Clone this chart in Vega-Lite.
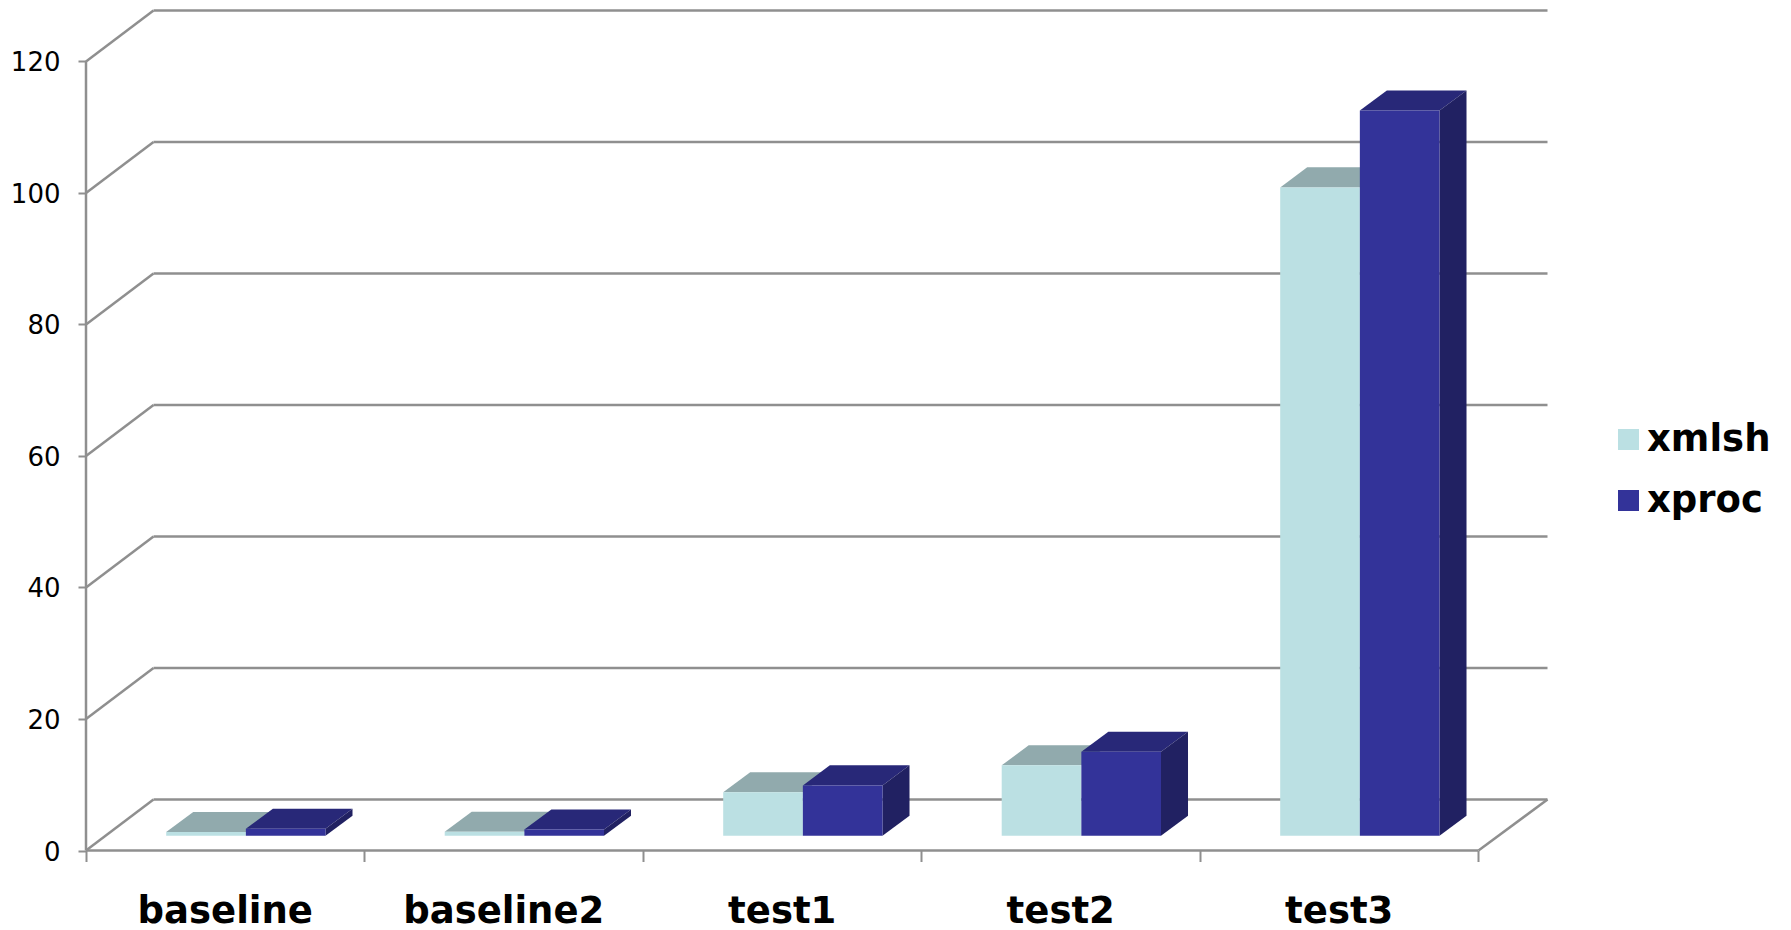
{
  "$schema": "https://vega.github.io/schema/vega-lite/v6.json",
  "width": 1461.5,
  "height": 840.5,
  "autosize": {"type": "none"},
  "padding": {"left": 86, "top": 10, "right": 243.5, "bottom": 79.5},
  "background": "white",
  "config": {
    "view": {"stroke": null},
    "font": "DejaVu Sans"
  },
  "datasets": {
    "timings": [
      {"group": "baseline", "series": "xmlsh", "value": 0.55},
      {"group": "baseline", "series": "xproc", "value": 1.05},
      {"group": "baseline2", "series": "xmlsh", "value": 0.6},
      {"group": "baseline2", "series": "xproc", "value": 0.95},
      {"group": "test1", "series": "xmlsh", "value": 6.6},
      {"group": "test1", "series": "xproc", "value": 7.65},
      {"group": "test2", "series": "xmlsh", "value": 10.7},
      {"group": "test2", "series": "xproc", "value": 12.75},
      {"group": "test3", "series": "xmlsh", "value": 98.6},
      {"group": "test3", "series": "xproc", "value": 110.3}
    ],
    "levels": [
      {"level": 0},
      {"level": 20},
      {"level": 40},
      {"level": 60},
      {"level": 80},
      {"level": 100},
      {"level": 120}
    ]
  },
  "layer": [
    {
      "description": "Back wall gridlines, with both axes carried by this layer",
      "data": {"name": "levels"},
      "transform": [
        {"calculate": "0.2424", "as": "x0"},
        {"calculate": "5.2478", "as": "x1"},
        {"calculate": "datum.level + 7.75", "as": "yBack"}
      ],
      "mark": {"type": "rule", "color": "#8f8f8f", "strokeWidth": 2.5},
      "encoding": {
        "x": {
          "field": "x0",
          "type": "quantitative",
          "scale": {"domain": [0, 5.2478], "nice": false, "zero": false},
          "axis": {
            "values": [0, 1, 2, 3, 4, 5],
            "labels": false,
            "grid": false,
            "domain": false,
            "title": null,
            "tickSize": 11,
            "tickWidth": 2,
            "tickColor": "#8f8f8f"
          }
        },
        "x2": {"field": "x1"},
        "y": {
          "field": "yBack",
          "type": "quantitative",
          "scale": {"domain": [0, 127.83], "nice": false, "zero": false},
          "axis": {
            "values": [0, 20, 40, 60, 80, 100, 120],
            "grid": false,
            "domain": false,
            "title": null,
            "tickSize": 8,
            "tickWidth": 2,
            "tickColor": "#8f8f8f",
            "labelFontSize": 26,
            "labelColor": "#000000",
            "labelPadding": 18,
            "labelOffset": 1.5,
            "labelFont": "DejaVu Sans"
          }
        }
      }
    },
    {
      "description": "Diagonals joining the left axis to the back wall",
      "data": {"name": "levels"},
      "transform": [
        {"calculate": "0", "as": "x0"},
        {"calculate": "0.2424", "as": "x1"},
        {"calculate": "datum.level + 7.75", "as": "yBack"}
      ],
      "mark": {"type": "rule", "color": "#8f8f8f", "strokeWidth": 2.5},
      "encoding": {
        "x": {"field": "x0", "type": "quantitative", "scale": {"domain": [0, 5.2478], "nice": false, "zero": false}},
        "x2": {"field": "x1"},
        "y": {"field": "level", "type": "quantitative", "scale": {"domain": [0, 127.83], "nice": false, "zero": false}},
        "y2": {"field": "yBack"}
      }
    },
    {
      "description": "Right edge of the floor",
      "data": {"name": "levels"},
      "transform": [
        {"filter": "datum.level === 0"},
        {"calculate": "5", "as": "x0"},
        {"calculate": "5.2478", "as": "x1"},
        {"calculate": "7.75", "as": "yBack"}
      ],
      "mark": {"type": "rule", "color": "#8f8f8f", "strokeWidth": 2.5},
      "encoding": {
        "x": {"field": "x0", "type": "quantitative", "scale": {"domain": [0, 5.2478], "nice": false, "zero": false}},
        "x2": {"field": "x1"},
        "y": {"field": "level", "type": "quantitative", "scale": {"domain": [0, 127.83], "nice": false, "zero": false}},
        "y2": {"field": "yBack"}
      }
    },
    {
      "description": "Front edge of the floor",
      "data": {"name": "levels"},
      "transform": [
        {"filter": "datum.level === 0"},
        {"calculate": "0", "as": "x0"},
        {"calculate": "5", "as": "x1"}
      ],
      "mark": {"type": "rule", "color": "#8f8f8f", "strokeWidth": 2.5},
      "encoding": {
        "x": {"field": "x0", "type": "quantitative", "scale": {"domain": [0, 5.2478], "nice": false, "zero": false}},
        "x2": {"field": "x1"},
        "y": {"field": "level", "type": "quantitative", "scale": {"domain": [0, 127.83], "nice": false, "zero": false}}
      }
    },
    {
      "description": "Vertical line of the value axis",
      "data": {"name": "levels"},
      "transform": [
        {"filter": "datum.level === 0"},
        {"calculate": "0", "as": "x0"},
        {"calculate": "120", "as": "yTop"}
      ],
      "mark": {"type": "rule", "color": "#8f8f8f", "strokeWidth": 2.5},
      "encoding": {
        "x": {"field": "x0", "type": "quantitative", "scale": {"domain": [0, 5.2478], "nice": false, "zero": false}},
        "y": {"field": "level", "type": "quantitative", "scale": {"domain": [0, 127.83], "nice": false, "zero": false}},
        "y2": {"field": "yTop"}
      }
    },
    {
      "description": "Top faces of the boxes",
      "data": {"name": "timings"},
      "transform": [
        {"calculate": "indexof(['baseline','baseline2','test1','test2','test3'], datum.group) + 0.288 + (datum.series === 'xproc' ? 0.286 : 0)", "as": "xLeft"},
        {"calculate": "datum.xLeft + 0.286", "as": "xRight"},
        {"calculate": "datum.value + 2.25", "as": "near"},
        {"calculate": "datum.value + 2.25 + 3.05", "as": "far"},
        {"fold": ["near", "far"], "as": ["corner", "yPos"]},
        {"calculate": "datum.xLeft + (datum.corner === 'far' ? 0.097 : 0)", "as": "xA"},
        {"calculate": "datum.xRight + (datum.corner === 'far' ? 0.097 : 0)", "as": "xB"},
        {"calculate": "datum.group + datum.series", "as": "box"}
      ],
      "mark": {"type": "area", "orient": "horizontal"},
      "encoding": {
        "y": {"field": "yPos", "type": "quantitative", "scale": {"domain": [0, 127.83], "nice": false, "zero": false}},
        "x": {"field": "xA", "type": "quantitative", "scale": {"domain": [0, 5.2478], "nice": false, "zero": false}},
        "x2": {"field": "xB"},
        "detail": {"field": "box"},
        "fill": {"condition": {"test": "datum.series === 'xproc'", "value": "#282878"}, "value": "#91aaad"}
      }
    },
    {
      "description": "Right-hand faces of the xproc boxes",
      "data": {"name": "timings"},
      "transform": [
        {"filter": "datum.series === 'xproc'"},
        {"calculate": "indexof(['baseline','baseline2','test1','test2','test3'], datum.group) + 0.86", "as": "xRight"},
        {"calculate": "2.25", "as": "near"},
        {"calculate": "2.25 + 3.05", "as": "far"},
        {"fold": ["near", "far"], "as": ["corner", "yBase"]},
        {"calculate": "datum.yBase + datum.value", "as": "yTop"},
        {"calculate": "datum.xRight + (datum.corner === 'far' ? 0.097 : 0)", "as": "xSide"}
      ],
      "mark": {"type": "area", "orient": "vertical", "color": "#212162"},
      "encoding": {
        "x": {"field": "xSide", "type": "quantitative", "scale": {"domain": [0, 5.2478], "nice": false, "zero": false}},
        "y": {"field": "yBase", "type": "quantitative", "scale": {"domain": [0, 127.83], "nice": false, "zero": false}},
        "y2": {"field": "yTop"},
        "detail": {"field": "group"}
      }
    },
    {
      "description": "Front faces of the boxes, which also carry the legend",
      "data": {"name": "timings"},
      "transform": [
        {"calculate": "indexof(['baseline','baseline2','test1','test2','test3'], datum.group) + 0.288 + (datum.series === 'xproc' ? 0.286 : 0)", "as": "xLeft"},
        {"calculate": "datum.xLeft + 0.286", "as": "xRight"},
        {"calculate": "2.25", "as": "yBase"},
        {"calculate": "datum.value + 2.25", "as": "yTop"}
      ],
      "mark": {"type": "rect"},
      "encoding": {
        "x": {"field": "xLeft", "type": "quantitative", "scale": {"domain": [0, 5.2478], "nice": false, "zero": false}},
        "x2": {"field": "xRight"},
        "y": {"field": "yBase", "type": "quantitative", "scale": {"domain": [0, 127.83], "nice": false, "zero": false}},
        "y2": {"field": "yTop"},
        "color": {
          "field": "series",
          "type": "nominal",
          "scale": {"domain": ["xmlsh", "xproc"], "range": ["#bbe0e3", "#333399"]},
          "legend": {
            "title": null,
            "orient": "none",
            "legendX": 1524,
            "legendY": 411,
            "symbolType": "square",
            "symbolSize": 441,
            "symbolStrokeWidth": 0,
            "symbolOpacity": 1,
            "labelFontSize": 37,
            "labelFontWeight": "bold",
            "labelFont": "DejaVu Sans",
            "labelColor": "#000000",
            "labelOffset": 0,
            "rowPadding": 23,
            "padding": 0
          }
        }
      }
    },
    {
      "description": "Category names under the floor",
      "data": {"name": "timings"},
      "transform": [
        {"filter": "datum.series === 'xmlsh'"},
        {"calculate": "indexof(['baseline','baseline2','test1','test2','test3'], datum.group) + 0.5", "as": "xMid"},
        {"calculate": "0", "as": "yAxis"}
      ],
      "mark": {"type": "text", "dy": 61, "fontSize": 37, "fontWeight": "bold", "font": "DejaVu Sans", "color": "#000000", "align": "center", "baseline": "middle"},
      "encoding": {
        "x": {"field": "xMid", "type": "quantitative", "scale": {"domain": [0, 5.2478], "nice": false, "zero": false}},
        "y": {"field": "yAxis", "type": "quantitative", "scale": {"domain": [0, 127.83], "nice": false, "zero": false}},
        "text": {"field": "group"}
      }
    }
  ]
}
